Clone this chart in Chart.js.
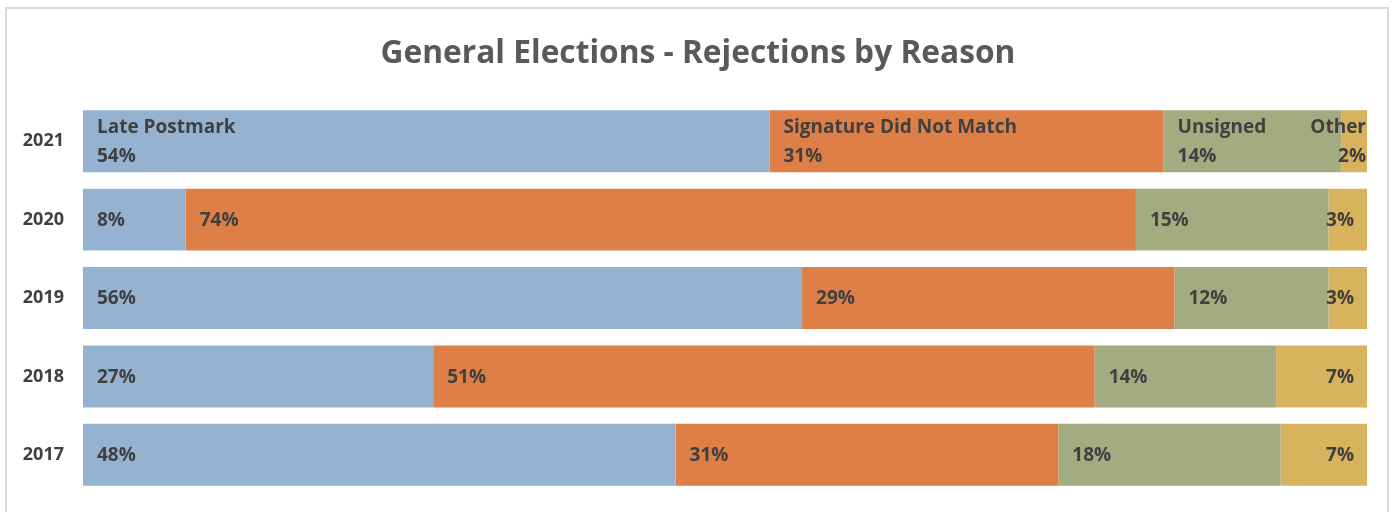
<!DOCTYPE html>
<html>
<head>
<meta charset="utf-8">
<script src="https://cdn.jsdelivr.net/npm/chart.js@4.4.1/dist/chart.umd.min.js"></script>
<style>
  html, body { margin: 0; padding: 0; background: #fff; overflow: hidden; }
  #frame {
    position: absolute; left: 5px; top: 7px; width: 1384px; height: 520px;
    border: 2px solid #d9d9d9; box-sizing: border-box;
  }
  #rejections { position: absolute; left: 0; top: 0; }
</style>
</head>
<body>
<div id="frame"></div>
<canvas id="rejections" width="1396" height="512"></canvas>
<script>
// rejection share by reason, per general election year (percent)
const years = ['2021', '2020', '2019', '2018', '2017'];
const reasons = ['Late Postmark', 'Signature Did Not Match', 'Unsigned', 'Other'];
const latePostmark = [54, 8, 56, 27, 48];
const signatureMismatch = [31, 74, 29, 51, 31];
const unsigned = [14, 15, 12, 14, 18];
const other = [2, 3, 3, 7, 7];
const colors = ['#95b3d1', '#dd7f47', '#a3ab80', '#d9b25d'];

const series = [latePostmark, signatureMismatch, unsigned, other];
// bars fill the full width: each row is scaled to its own total
const totals = years.map((_, i) => series.reduce((s, arr) => s + arr[i], 0));

const labelFont = 'bold 19px "Open Sans"';
const labelColor = '#404040';

// draws the value labels inside each segment; the first row also names the reason
const segmentLabels = {
  id: 'segmentLabels',
  afterDatasetsDraw(chart) {
    const ctx = chart.ctx;
    ctx.save();
    ctx.font = labelFont;
    ctx.fillStyle = labelColor;
    ctx.textBaseline = 'middle';
    chart.data.datasets.forEach((ds, di) => {
      const meta = chart.getDatasetMeta(di);
      const last = di === chart.data.datasets.length - 1;
      meta.data.forEach((bar, i) => {
        const lines = i === 0 ? [reasons[di], series[di][i] + '%'] : [series[di][i] + '%'];
        const left = Math.min(bar.base, bar.x);
        const right = Math.max(bar.base, bar.x);
        const widest = Math.max(...lines.map(t => ctx.measureText(t).width));
        let tx;
        if (last) {
          ctx.textAlign = 'right';
          tx = widest > right - left ? right - 1 : right - 13;
        } else {
          ctx.textAlign = 'left';
          tx = left + 14;
        }
        const step = 29;
        const y0 = bar.y + 1 - (lines.length - 1) * step / 2;
        lines.forEach((t, k) => ctx.fillText(t, tx, y0 + k * step));
      });
    });
    ctx.restore();
  }
};

// the year labels sit partly in the left padding; widen the axis box so they aren't clipped
const widenYAxis = {
  id: 'widenYAxis',
  afterLayout(chart) {
    chart.scales.y.left = 0;
  }
};

new Chart(document.getElementById('rejections'), {
  type: 'bar',
  data: {
    labels: years,
    datasets: series.map((arr, di) => ({
      label: reasons[di],
      data: arr.map((v, i) => v / totals[i] * 100),
      backgroundColor: colors[di],
      borderWidth: 0,
      barPercentage: 0.79,
      categoryPercentage: 1
    }))
  },
  options: {
    indexAxis: 'y',
    responsive: false,
    animation: false,
    layout: { padding: { left: 29, right: 29, top: 0, bottom: 18 } },
    scales: {
      x: { stacked: true, min: 0, max: 100, display: false },
      y: {
        stacked: true,
        grid: { display: false, drawTicks: false },
        border: { display: false },
        ticks: { color: labelColor, font: { family: 'Open Sans', size: 18, weight: 'bold' }, padding: 19 },
        afterFit(scale) {
          // fixed label column; no extra room above/below the rows
          scale.width = 54;
          scale.paddingTop = 0;
          scale.paddingBottom = 0;
        }
      }
    },
    plugins: {
      legend: { display: false },
      tooltip: { enabled: false },
      title: {
        display: true,
        text: 'General Elections - Rejections by Reason',
        color: '#595959',
        font: { family: 'Open Sans', size: 31.7, weight: 'bold', lineHeight: 1.2 },
        padding: { top: 35, bottom: 29 }
      }
    }
  },
  plugins: [segmentLabels, widenYAxis]
});
</script>
</body>
</html>
